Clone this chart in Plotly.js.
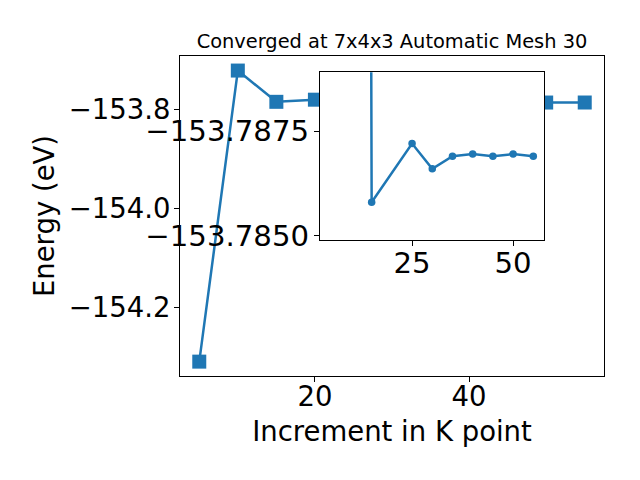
<!DOCTYPE html>
<html>
<head>
<meta charset="utf-8">
<script src="https://cdn.plot.ly/plotly-3.0.1.min.js"></script>
<style>html,body{margin:0;padding:0;background:#fff;}#chart{width:640px;height:480px;}</style>
</head>
<body>
<div id="chart"></div>
<script>
// Main series: K-point increment vs total energy (eV)
const kPoints = [5, 10, 15, 20, 25, 30, 35, 40, 45, 50, 55];
const energies = [-154.31, -153.7224, -153.7855, -153.7812, -153.7872, -153.7866, -153.7869, -153.78695, -153.7869, -153.78695, -153.7869];

// Inset series (zoomed view); first point lies beyond the inset's visible range
const kInset = [10, 15, 25, 30, 35, 40, 45, 50, 55];
const eInset = [-153.95, -153.7858, -153.7872, -153.7866, -153.7869, -153.78695, -153.7869, -153.78695, -153.7869];

const titleText = "Converged at 7x4x3 Automatic Mesh 30";
const xLabel = "Increment in K point";
const yLabel = "Energy (eV)";

const blue = "#1f77b4";
const F = "DejaVu Sans, sans-serif";

const traces = [
  {x: kPoints, y: energies, type: "scatter", mode: "lines+markers",
   line: {color: blue, width: 2.5}, marker: {symbol: "square", size: 14, color: blue},
   xaxis: "x", yaxis: "y", hoverinfo: "skip"},
  {x: kInset, y: eInset, type: "scatter", mode: "lines+markers",
   line: {color: blue, width: 2.5}, marker: {symbol: "circle", size: 7.5, color: blue},
   xaxis: "x2", yaxis: "y2", hoverinfo: "skip"}
];

const axisCommon = {showline: true, linecolor: "#000", linewidth: 1, mirror: true,
  ticks: "outside", ticklen: 5, tickwidth: 1, tickcolor: "#000", showgrid: false, zeroline: false,
  tickfont: {family: F, size: 27.5, color: "#000"}};
const insetFont = {family: F, size: 29.2, color: "#000"};

const layout = {
  width: 640, height: 480, showlegend: false,
  paper_bgcolor: "#fff", plot_bgcolor: "#fff",
  margin: {l: 180, r: 36, t: 56, b: 104},
  title: {text: titleText, font: {family: F, size: 19.4, color: "#000"},
          x: 0.5, xref: "paper", y: 1, yref: "paper", yanchor: "bottom", pad: {b: 8}},
  xaxis: Object.assign({}, axisCommon, {domain: [0, 1], range: [2.5, 57.5], tick0: 0, dtick: 20, anchor: "y",
          ticklabelstandoff: -9,
          title: {text: xLabel, font: {family: F, size: 27.5, color: "#000"}, standoff: 10}}),
  yaxis: Object.assign({}, axisCommon, {domain: [0, 1], range: [-154.339, -153.693], tick0: -154.0, dtick: 0.2,
          tickformat: ".1f", anchor: "x", ticklabelstandoff: -2,
          title: {text: yLabel, font: {family: F, size: 27.5, color: "#000"}, standoff: 6}}),
  xaxis2: Object.assign({}, axisCommon, {domain: [0.330, 0.859], range: [2.2, 57.7], tick0: 0, dtick: 25, anchor: "y2",
          ticklabelstandoff: -8, tickfont: insetFont}),
  yaxis2: Object.assign({}, axisCommon, {domain: [0.425, 0.949], range: [-153.7849, -153.7889], tick0: -153.7850, dtick: 0.0025,
          tickformat: ".4f", anchor: "x2", ticklabelstandoff: -1, tickfont: insetFont})
};

Plotly.newPlot("chart", traces, layout, {staticPlot: true, displayModeBar: false});
</script>
</body>
</html>
